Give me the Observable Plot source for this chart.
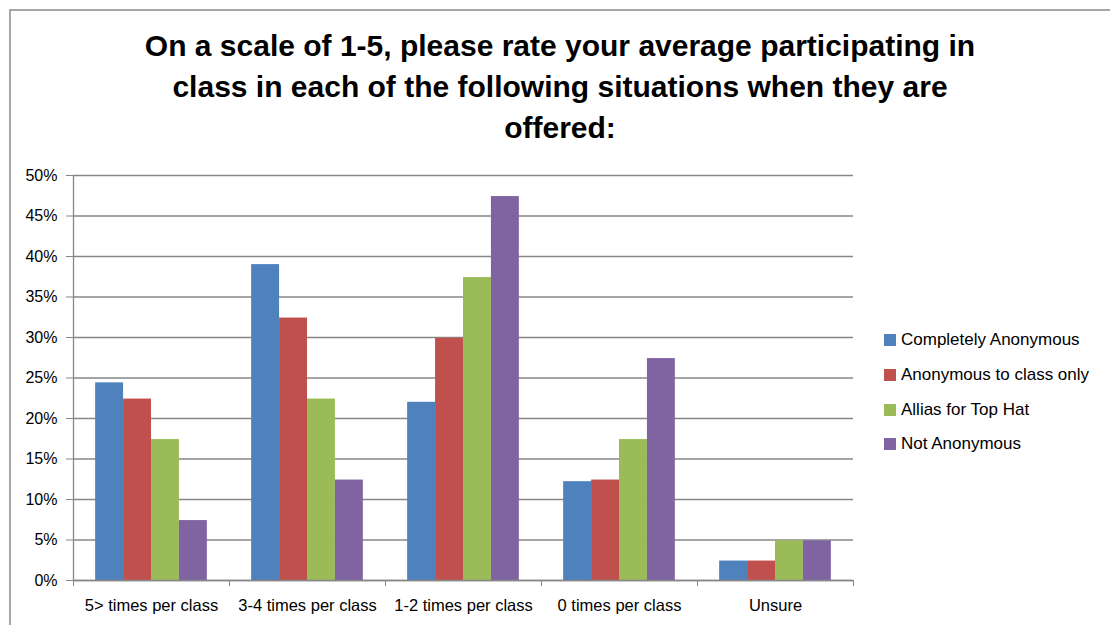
<!DOCTYPE html>
<html>
<head>
<meta charset="utf-8">
<script src="https://cdn.jsdelivr.net/npm/d3@7"></script>
<script src="https://cdn.jsdelivr.net/npm/@observablehq/plot@0.6"></script>
<style>
  body { margin: 0; background: #fff; font-family: "Liberation Sans", Arial, sans-serif; }
  #wrap { position: relative; width: 1110px; height: 625px; overflow: hidden; background: #fff; }
  #border { position: absolute; left: 9px; top: 9px; right: -10px; bottom: -10px;
            border-top: 2px solid #a6a6a6; border-left: 2px solid #a6a6a6; pointer-events: none; }
  #title { position: relative; width: 1120px; height: 150px; box-sizing: border-box; padding-top: 25px;
           text-align: center; font-weight: bold; font-size: 30px; line-height: 41px; color: #000; }
  #chart { position: relative; }
  #legend { position: absolute; left: 884px; top: 0; }
  .item { position: absolute; left: 0; height: 20px; display: flex; align-items: center;
          white-space: nowrap; font-size: 17px; color: #000; }
  .sw { width: 12px; height: 12px; margin-right: 5px; flex: none; }
</style>
</head>
<body>
<div id="wrap">
  <div id="title">On a scale of 1-5, please rate your average participating in<br>class in each of the following situations when they are<br>offered:</div>
  <div id="chart"></div>
  <div id="legend"></div>
  <div id="border"></div>
</div>
<script>
// ---- data ----
const categories = ["5> times per class", "3-4 times per class", "1-2 times per class", "0 times per class", "Unsure"];
const series = ["Completely Anonymous", "Anonymous to class only", "Allias for Top Hat", "Not Anonymous"];
const completelyAnonymous = [24.4, 39.0, 22.0, 12.2, 2.4];
const anonymousToClassOnly = [22.4, 32.4, 29.9, 12.4, 2.4];
const alliasForTopHat = [17.4, 22.4, 37.4, 17.4, 4.9];
const notAnonymous = [7.4, 12.4, 47.4, 27.4, 4.9];
const yTicks = [0, 5, 10, 15, 20, 25, 30, 35, 40, 45, 50];
const colors = ["#4F81BD", "#C0504D", "#9BBB59", "#8064A2"];

// ---- table built from arrays ----
const seriesValues = [completelyAnonymous, anonymousToClassOnly, alliasForTopHat, notAnonymous];
const gap = 0.284;                     // gap between groups, as a fraction of a category slot
const barW = (1 - gap) / series.length;
const rows = [];
categories.forEach((c, ci) => {
  series.forEach((s, si) => {
    const x1 = ci + gap / 2 + si * barW;
    rows.push({category: c, series: s, value: seriesValues[si][ci], x1, x2: x1 + barW});
  });
});

const gridColor = "#878787";

const chart = Plot.plot({
  width: 1110,
  height: 475,
  marginTop: 25,
  marginBottom: 45,
  marginLeft: 73,
  marginRight: 257,
  style: {fontFamily: "Liberation Sans, Arial, sans-serif", fontSize: "16px", background: "transparent", color: "#000"},
  x: {domain: [0, categories.length], label: null},
  y: {domain: [0, 50], label: null},
  color: {domain: series, range: colors},
  marks: [
    Plot.gridY({ticks: yTicks, stroke: gridColor, strokeOpacity: 1, strokeWidth: 1.3}),
    Plot.rect(rows, {x1: "x1", x2: "x2", y1: 0, y2: "value", fill: "series"}),
    Plot.ruleY([0], {stroke: gridColor, strokeWidth: 1.3}),
    Plot.ruleX([0], {stroke: gridColor, strokeWidth: 1.3}),
    Plot.axisY({ticks: yTicks, tickFormat: d => d + "%", tickSize: 7, tickPadding: 9,
                stroke: gridColor, fill: "#000", fontSize: 16, label: null}),
    Plot.axisX({ticks: d3.range(0, categories.length + 1), tickSize: 6, tickFormat: () => "",
                stroke: gridColor, label: null}),
    Plot.axisX({ticks: categories.map((c, i) => i + 0.5), tickSize: 0, tickPadding: 19,
                tickFormat: v => categories[Math.floor(v)], fill: "#000", fontSize: 16.5, label: null})
  ]
});
document.getElementById("chart").appendChild(chart);

// ---- legend ----
const legend = document.getElementById("legend");
series.forEach((s, i) => {
  const item = document.createElement("div");
  item.className = "item";
  item.style.top = (330 + i * 34.8) + "px";
  const sw = document.createElement("span");
  sw.className = "sw";
  sw.style.background = colors[i];
  const label = document.createElement("span");
  label.textContent = s;
  item.appendChild(sw);
  item.appendChild(label);
  legend.appendChild(item);
});
</script>
</body>
</html>
